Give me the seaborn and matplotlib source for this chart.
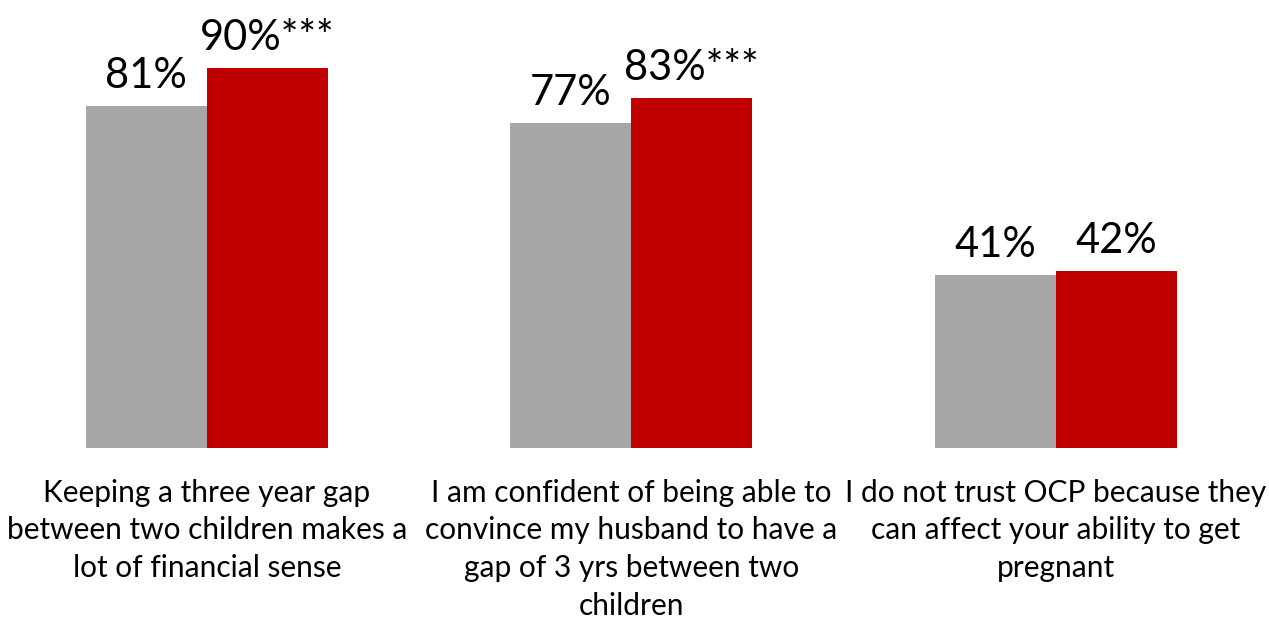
import matplotlib
matplotlib.use("Agg")
import matplotlib.pyplot as plt
import seaborn as sns
import pandas as pd

categories = [
    "Keeping a three year gap\nbetween two children makes a\nlot of financial sense",
    "I am confident of being able to\nconvince my husband to have a\ngap of 3 yrs between two\nchildren",
    "I do not trust OCP because they\ncan affect your ability to get\npregnant",
]
groups = ["Group A", "Group B"]
values_a = [81, 77, 41]
values_b = [90, 83, 42]
suffix_a = ["", "", ""]
suffix_b = ["***", "***", ""]
colors = ["#A6A6A6", "#C00000"]

sns.set_theme(style="white")
plt.rcParams['font.family'] = ['Lato', 'DejaVu Sans']

df = pd.DataFrame({
    "category": categories * 2,
    "group": [groups[0]] * 3 + [groups[1]] * 3,
    "value": values_a + values_b,
})

fig = plt.figure(figsize=(12.69, 6.2), dpi=100)
ax = fig.add_axes([0.0025, 0.2774, 0.990, 0.6806])
sns.barplot(data=df, x="category", y="value", hue="group", hue_order=groups,
            palette=colors, width=0.57, saturation=1, ax=ax, legend=False,
            errorbar=None, linewidth=0)
ax.set_ylim(0, 100)
ax.set_xlim(-0.48, 2.48)
for c, vals, suf in zip(ax.containers, [values_a, values_b], [suffix_a, suffix_b]):
    labels = [f"{v}%{s}" for v, s in zip(vals, suf)]
    ax.bar_label(c, labels=labels, padding=8, fontsize=30, color="black")
for s in ax.spines.values():
    s.set_visible(False)
ax.set_yticks([])
ax.set_xlabel("")
ax.set_ylabel("")
ax.tick_params(axis="x", length=0, pad=22, labelsize=21.5)
for t in ax.get_xticklabels():
    t.set_linespacing(1.42)
    t.set_color("black")
fig.savefig("out.png", dpi=100)
